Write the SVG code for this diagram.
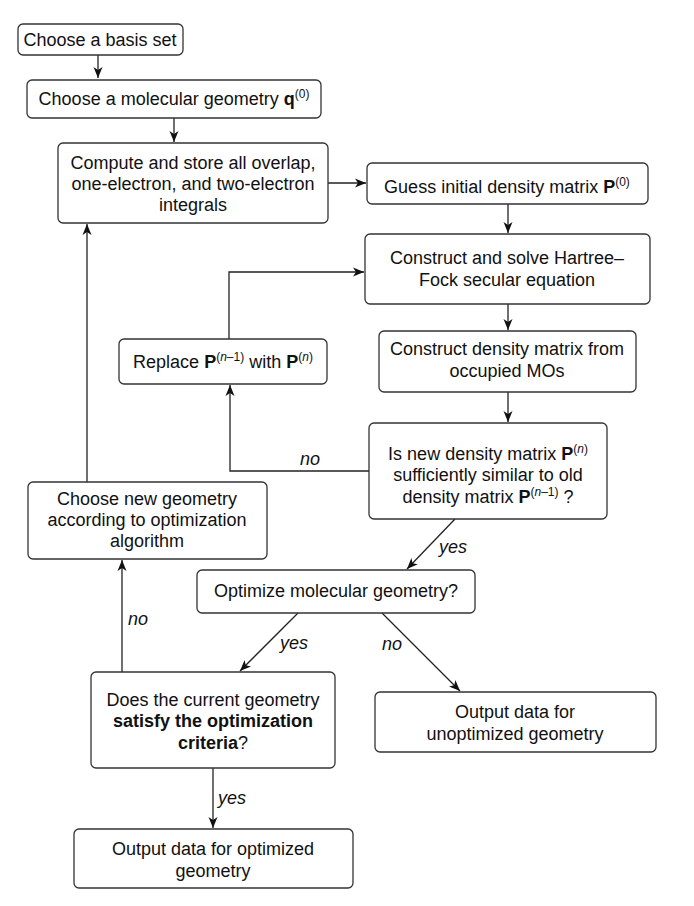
<svg xmlns="http://www.w3.org/2000/svg" width="694" height="906" viewBox="0 0 694 906">
<defs>
<marker id="ah" markerUnits="userSpaceOnUse" markerWidth="12" markerHeight="10" refX="11" refY="5" orient="auto">
<path d="M0,0.5 L11,5 L0,9.5 L3,5 z" fill="#111"/>
</marker>
<style>
.box{fill:#fff;stroke:#333;stroke-width:1.3}
.t{font-family:"Liberation Sans",Arial,sans-serif;font-size:18px;fill:#111;text-anchor:middle}
.lbl{font-family:"Liberation Sans",Arial,sans-serif;font-size:18px;fill:#111;font-style:italic}
.c{fill:none;stroke:#222;stroke-width:1.3}
.sup{font-size:12px}
</style>
</defs>
<rect width="694" height="906" fill="#fff"/>
<g id="connectors">
<line class="c" x1="98" y1="55" x2="98" y2="78" marker-end="url(#ah)"/>
<line class="c" x1="174" y1="118" x2="174" y2="142" marker-end="url(#ah)"/>
<line class="c" x1="328" y1="183" x2="366" y2="183" marker-end="url(#ah)"/>
<line class="c" x1="508" y1="204" x2="508" y2="233" marker-end="url(#ah)"/>
<polyline class="c" points="229,339 229,272 364,272" marker-end="url(#ah)"/>
<line class="c" x1="508" y1="304" x2="508" y2="330" marker-end="url(#ah)"/>
<line class="c" x1="508" y1="392" x2="508" y2="422" marker-end="url(#ah)"/>
<polyline class="c" points="369,471 230,471 230,385" marker-end="url(#ah)"/>
<line class="c" x1="455" y1="519" x2="407" y2="569" marker-end="url(#ah)"/>
<line class="c" x1="87" y1="482" x2="87" y2="224" marker-end="url(#ah)"/>
<line class="c" x1="122" y1="672" x2="122" y2="560" marker-end="url(#ah)"/>
<line class="c" x1="298" y1="613" x2="240" y2="671" marker-end="url(#ah)"/>
<line class="c" x1="382" y1="613" x2="460" y2="691" marker-end="url(#ah)"/>
<line class="c" x1="213" y1="768" x2="213" y2="828" marker-end="url(#ah)"/>
<text class="lbl" x="300" y="465">no</text>
<text class="lbl" x="439" y="553">yes</text>
<text class="lbl" x="128" y="625">no</text>
<text class="lbl" x="280" y="649">yes</text>
<text class="lbl" x="382" y="650">no</text>
<text class="lbl" x="218" y="804">yes</text>
</g>
<g id="basis">
<rect class="box" x="18" y="24" width="165" height="31" rx="5"/>
<text class="t" x="100" y="46">Choose a basis set</text>
</g>
<g id="geometry">
<rect class="box" x="27" y="80" width="294" height="38" rx="5"/>
<text class="t" x="174" y="105">Choose a molecular geometry <tspan font-weight="bold">q</tspan><tspan class="sup" dy="-7">(0)</tspan></text>
</g>
<g id="integrals">
<rect class="box" x="58" y="143" width="270" height="80" rx="5"/>
<text class="t" x="193" y="169">Compute and store all overlap,</text>
<text class="t" x="193" y="190">one-electron, and two-electron</text>
<text class="t" x="193" y="211">integrals</text>
</g>
<g id="guess">
<rect class="box" x="367" y="163" width="281" height="41" rx="5"/>
<text class="t" x="507" y="193">Guess initial density matrix <tspan font-weight="bold">P</tspan><tspan class="sup" dy="-7">(0)</tspan></text>
</g>
<g id="hartree">
<rect class="box" x="365" y="234" width="285" height="70" rx="5"/>
<text class="t" x="507" y="264">Construct and solve Hartree–</text>
<text class="t" x="507" y="286">Fock secular equation</text>
</g>
<g id="replace">
<rect class="box" x="119" y="339" width="208" height="45" rx="5"/>
<text class="t" x="223" y="368">Replace <tspan font-weight="bold">P</tspan><tspan class="sup" dy="-7">(<tspan font-style="italic">n</tspan>–1)</tspan><tspan dy="7"> with </tspan><tspan font-weight="bold">P</tspan><tspan class="sup" dy="-7">(<tspan font-style="italic">n</tspan>)</tspan></text>
</g>
<g id="density">
<rect class="box" x="379" y="331" width="257" height="61" rx="5"/>
<text class="t" x="507" y="355">Construct density matrix from</text>
<text class="t" x="507" y="377">occupied MOs</text>
</g>
<g id="similar">
<rect class="box" x="369" y="423" width="238" height="96" rx="5"/>
<text class="t" x="488" y="460">Is new density matrix <tspan font-weight="bold">P</tspan><tspan class="sup" dy="-7">(<tspan font-style="italic">n</tspan>)</tspan></text>
<text class="t" x="488" y="481">sufficiently similar to old</text>
<text class="t" x="488" y="503">density matrix <tspan font-weight="bold">P</tspan><tspan class="sup" dy="-7">(<tspan font-style="italic">n</tspan>–1)</tspan><tspan dy="7"> ?</tspan></text>
</g>
<g id="newgeom">
<rect class="box" x="28" y="482" width="239" height="77" rx="5"/>
<text class="t" x="147" y="505">Choose new geometry</text>
<text class="t" x="147" y="526">according to optimization</text>
<text class="t" x="147" y="547">algorithm</text>
</g>
<g id="optimize">
<rect class="box" x="197" y="570" width="278" height="43" rx="5"/>
<text class="t" x="336" y="597">Optimize molecular geometry?</text>
</g>
<g id="criteria">
<rect class="box" x="91" y="672" width="244" height="96" rx="5"/>
<text class="t" x="213" y="706">Does the current geometry</text>
<text class="t" x="213" y="727" font-weight="bold">satisfy the optimization</text>
<text class="t" x="213" y="749"><tspan font-weight="bold">criteria</tspan>?</text>
</g>
<g id="unopt">
<rect class="box" x="375" y="692" width="281" height="60" rx="5"/>
<text class="t" x="515" y="718">Output data for</text>
<text class="t" x="515" y="740">unoptimized geometry</text>
</g>
<g id="opt">
<rect class="box" x="74" y="829" width="279" height="59" rx="5"/>
<text class="t" x="213" y="855">Output data for optimized</text>
<text class="t" x="213" y="877">geometry</text>
</g>
</svg>
